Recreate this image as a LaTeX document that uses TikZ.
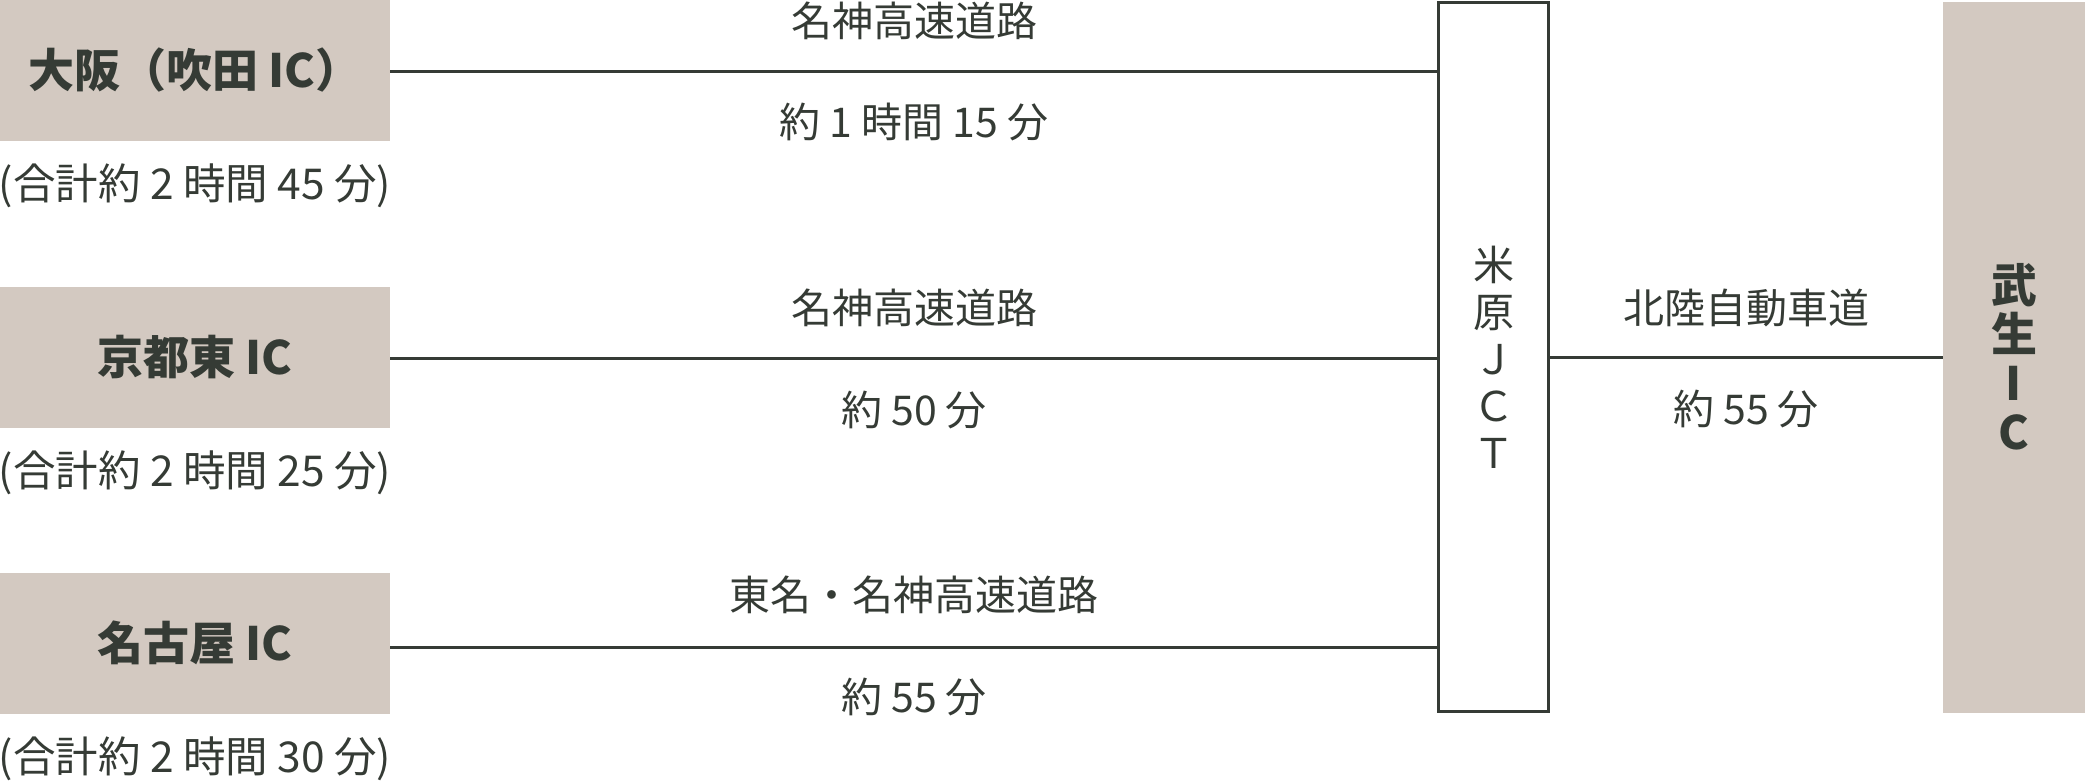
\documentclass[tikz,border=0pt]{standalone}
\usepackage{fontspec}
\setmainfont{Noto Sans CJK JP}
\definecolor{ink}{HTML}{353B35}
\definecolor{beige}{HTML}{D3C9C1}
\tikzset{
  icbox/.style={fill=beige, draw=none, inner sep=0pt, text=ink, font=\fontsize{46}{50}\selectfont\bfseries, minimum width=390pt, minimum height=141pt},
  lbl/.style={text=ink, inner sep=0pt, font=\fontsize{41}{48}\selectfont},
  totlbl/.style={lbl, font=\fontsize{42.5}{48}\selectfont},
  road/.style={draw=ink, line width=3pt},
  jctbox/.style={draw=ink, line width=3pt, fill=white, minimum width=110pt, minimum height=709pt, inner sep=0pt, text=ink, align=center, font=\fontsize{41}{47}\selectfont},
  destbox/.style={fill=beige, draw=none, inner sep=0pt, text=ink, align=center, minimum width=142pt, minimum height=711pt, font=\fontsize{46}{49}\selectfont\bfseries}
}
\begin{document}
\begin{tikzpicture}[x=1pt,y=-1pt]
\useasboundingbox (0,0) rectangle (2085,780);
% left boxes
\node[icbox] (osaka) at (195,70.5) {大阪（吹田 IC）};
\node[icbox] (kyoto) at (195,357.5) {京都東 IC};
\node[icbox] (nagoya) at (195,643) {名古屋 IC};
% totals
\node[totlbl] (tot1) at (195,186) {(合計約 2 時間 45 分)};
\node[totlbl] (tot2) at (195,473) {(合計約 2 時間 25 分)};
\node[totlbl] (tot3) at (195,759) {(合計約 2 時間 30 分)};
% junction
\node[jctbox] (jct) at (1493.5,357) {米\\原\\Ｊ\\Ｃ\\Ｔ};
% destination
\node[destbox] (takefu) at (2014,357) {武\\生\\I\\C};
% roads
\draw[road] (osaka.east |- 0,71) coordinate (r1a) -- (jct.west |- 0,71) coordinate (r1b);
\draw[road] (kyoto.east |- 0,358) coordinate (r2a) -- (jct.west |- 0,358) coordinate (r2b);
\draw[road] (nagoya.east |- 0,647) coordinate (r3a) -- (jct.west |- 0,647) coordinate (r3b);
\draw[road] (jct.east |- 0,357) coordinate (r4a) -- (takefu.west |- 0,357) coordinate (r4b);
% road labels
\node[lbl] (n1) at (914,21) {名神高速道路};
\node[lbl] (t1) at (914,122) {約 1 時間 15 分};
\node[lbl] (n2) at (914,308) {名神高速道路};
\node[lbl] (t2) at (914,410) {約 50 分};
\node[lbl] (n3) at (914,595) {東名・名神高速道路};
\node[lbl] (t3) at (914,697) {約 55 分};
\node[lbl] (n4) at (1746,308) {北陸自動車道};
\node[lbl] (t4) at (1746,409) {約 55 分};
\end{tikzpicture}
\end{document}
